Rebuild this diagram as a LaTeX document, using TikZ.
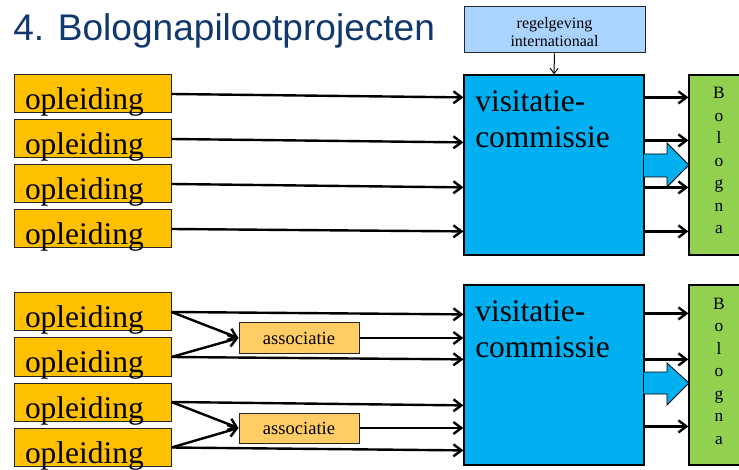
\documentclass[tikz,border=0pt]{standalone}
\usepackage{fontspec}
\setmainfont{Liberation Serif}
\newfontfamily\titlefont{Liberation Sans}
\usetikzlibrary{arrows.meta,calc}
\definecolor{titleblue}{RGB}{16,56,110}
\definecolor{oplcol}{RGB}{255,192,0}
\definecolor{asscol}{RGB}{255,204,102}
\definecolor{regcol}{RGB}{170,212,255}
\definecolor{viscol}{RGB}{0,176,240}
\definecolor{bolcol}{RGB}{146,208,80}
\begin{document}
\begin{tikzpicture}[x=0.75pt,y=-0.75pt,
  titlestyle/.style={inner sep=0pt, text=titleblue, font=\titlefont\fontsize{27.8pt}{32pt}\selectfont},
  obox/.style={draw=black!85, line width=0.75pt, fill=oplcol, text width=101.25pt, inner xsep=8.25pt, inner ysep=0pt,
    minimum height=28.5pt, align=left, text height=24pt, text depth=0pt, font=\fontsize{23.6pt}{26pt}\selectfont},
  abox/.style={draw=black!85, line width=0.75pt, fill=asscol, minimum width=90pt, minimum height=22.5pt, inner sep=0pt,
    font=\fontsize{13.9pt}{16pt}\selectfont},
  rbox/.style={draw=black!85, line width=0.75pt, fill=regcol, minimum width=135.75pt, minimum height=34.5pt, inner sep=0pt,
    align=center, text height=25pt, text depth=0pt, font=\fontsize{12pt}{13.5pt}\selectfont},
  vbox/.style={draw=black, line width=0.9pt, fill=viscol, minimum width=135pt, minimum height=135pt, inner sep=0pt},
  bbox/.style={draw=black, line width=0.9pt, fill=bolcol, minimum width=45pt, minimum height=135pt, inner sep=0pt},
  vtext/.style={inner sep=0pt, align=left, font=\fontsize{23.6pt}{27pt}\selectfont},
  btext/.style={inner sep=0pt, align=center, font=\fontsize{13pt}{16.875pt}\selectfont},
  conn/.style={line width=1.8pt, -{Straight Barb[length=6pt,width=9pt]}},
  thinconn/.style={line width=0.75pt, -{Straight Barb[length=4pt,width=6pt]}},
  blockarrow/.style={draw=black, line width=0.6pt, fill=viscol, line join=miter}
]
\useasboundingbox (0,0) rectangle (739,470);

% title
\node[titlestyle, anchor=base west] (title) at (13,41) {4. Bolognapilootprojecten};

% regelgeving
\node[rbox] (reg) at (554.5,30) {regelgeving\\internationaal};

% visitatiecommissies and Bologna
\node[vbox] (v1) at (554,165) {};
\node[vbox] (v2) at (554,375) {};
\node[bbox] (b1) at (719,165) {};
\node[bbox] (b2) at (719,375) {};
\node[vtext, anchor=base west] (v1t) at (475,148) {visitatie-\\commissie};
\node[vtext, anchor=base west] (v2t) at (475,358) {visitatie-\\commissie};
\node[btext, anchor=base] (b1t) at (719,234) {B\\o\\l\\o\\g\\n\\a};
\node[btext, anchor=base] (b2t) at (719,444) {B\\o\\l\\o\\g\\n\\a};

% block arrows
\draw[blockarrow] (644,154) -- (667,154) -- (667,143) -- (689,165) -- (667,187) -- (667,177) -- (644,177);
\draw[blockarrow] (644,372) -- (667,372) -- (667,363) -- (689,383) -- (667,405) -- (667,394) -- (644,394);

% opleidingen top
\node[obox] (o1) at (92.5,94) {opleiding};
\node[obox] (o2) at (92.5,139) {opleiding};
\node[obox] (o3) at (92.5,184) {opleiding};
\node[obox] (o4) at (92.5,229) {opleiding};
% opleidingen bottom
\node[obox] (o5) at (92.5,312) {opleiding};
\node[obox] (o6) at (92.5,357) {opleiding};
\node[obox] (o7) at (92.5,402) {opleiding};
\node[obox] (o8) at (92.5,447.5) {opleiding};

% associaties
\node[abox] (a1) at (299,338) {associatie};
\node[abox] (a2) at (299,428) {associatie};

% regelgeving arrow
\draw[thinconn] (reg.south) -- (v1.north);

% top connectors
\draw[conn] (o1.east) -- ($(v1.north west)+(0,23)$);
\draw[conn] (o2.east) -- ($(v1.north west)+(0,68)$);
\draw[conn] (o3.east) -- ($(v1.north west)+(0,113)$);
\draw[conn] (o4.east) -- ($(v1.north west)+(0,157)$);
\draw[conn] ($(v1.north east)+(0,23)$) -- ($(b1.north west)+(0,23)$);
\draw[conn] ($(v1.north east)+(0,66)$) -- ($(b1.north west)+(0,66)$);
\draw[conn] ($(v1.north east)+(0,113)$) -- ($(b1.north west)+(0,113)$);
\draw[conn] ($(v1.north east)+(0,157)$) -- ($(b1.north west)+(0,157)$);

% bottom connectors
\draw[conn] (o5.east) -- ($(v2.north west)+(0,30)$);
\draw[conn] (o5.east) -- (a1.west);
\draw[conn] (o6.east) -- (a1.west);
\draw[conn] (o6.east) -- ($(v2.north west)+(0,75)$);
\draw[conn] (a1.east) -- (a1.east -| v2.west);
\draw[conn] (o7.east) -- ($(v2.north west)+(0,121)$);
\draw[conn] (o7.east) -- (a2.west);
\draw[conn] (o8.east) -- (a2.west);
\draw[conn] (o8.east) -- ($(v2.north west)+(0,166)$);
\draw[conn] (a2.east) -- (a2.east -| v2.west);
\draw[conn] ($(v2.north east)+(0,29)$) -- ($(b2.north west)+(0,29)$);
\draw[conn] ($(v2.north east)+(0,75)$) -- ($(b2.north west)+(0,75)$);
\draw[conn] ($(v2.north east)+(0,142)$) -- ($(b2.north west)+(0,142)$);
\end{tikzpicture}
\end{document}
